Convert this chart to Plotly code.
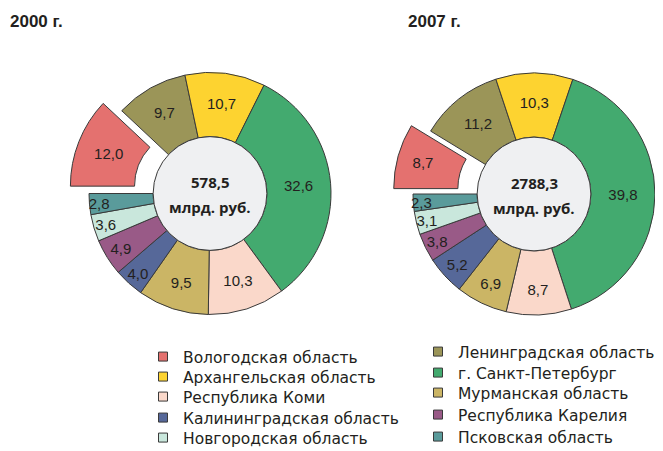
import math
import plotly.graph_objects as go

# ---------------- data ----------------
regions = [
    "Вологодская область",
    "Ленинградская область",
    "Архангельская область",
    "г. Санкт-Петербург",
    "Республика Коми",
    "Мурманская область",
    "Калининградская область",
    "Республика Карелия",
    "Новгородская область",
    "Псковская область",
]
share_2000 = [12.0, 9.7, 10.7, 32.6, 10.3, 9.5, 4.0, 4.9, 3.6, 2.8]
share_2007 = [8.7, 11.2, 10.3, 39.8, 8.7, 6.9, 5.2, 3.8, 3.1, 2.3]
years = ["2000 г.", "2007 г."]
totals = ["578,5", "2788,3"]
unit = "млрд. руб."

colors = ["#e4716f", "#9b9558", "#fdd330", "#43aa6f", "#fad8ca",
          "#cbb565", "#566899", "#995a87", "#c9e7dc", "#5a9b9b"]

# ---------------- layout constants ----------------
OFF = 8                      # page body margin
W, H = 663 - OFF, 451 - OFF  # figure size
R = 121
HOLE = 0.47
PULL_PX = 20
centers = [(210, 193.5), (534, 194)]  # in window pixels
LINE = "#3a3a3a"
TXT = "#231f20"
FONT = "Liberation Sans, Arial, sans-serif"
LEG_FONT = "DejaVu Sans, Liberation Sans, sans-serif"


def px(x):
    return min(1.0, max(0.0, (x - OFF) / W))


def py(y):
    return min(1.0, max(0.0, 1 - (y - OFF) / H))


def dom(cx, cy):
    return dict(x=[px(cx - R), px(cx + R)], y=[py(cy + R), py(cy - R)])


def fmt(v):
    return f"{v:.1f}".replace(".", ",")


fig = go.Figure()
transparent = "rgba(0,0,0,0)"

for k, vals in enumerate([share_2000, share_2007]):
    cx, cy = centers[k]
    n = len(vals)
    labels_txt = [fmt(v) for v in vals]
    # main ring (first slice hidden; drawn pulled-out separately)
    fig.add_trace(go.Pie(
        labels=regions, values=vals, sort=False, direction="clockwise",
        rotation=270, hole=HOLE, domain=dom(cx, cy),
        marker=dict(colors=[transparent] + colors[1:],
                    line=dict(color=LINE, width=[0] + [1] * (n - 1))),
        text=[""] + labels_txt[1:], textinfo="text",
        textposition="inside", insidetextorientation="horizontal",
        textfont=dict(family=FONT, size=15, color=TXT),
        showlegend=False, hoverinfo="skip",
    ))
    # pulled-out first slice
    frac = vals[0] / sum(vals)
    th = math.radians(270 + frac * 180)
    dx, dy = PULL_PX * math.sin(th), -PULL_PX * math.cos(th)
    fig.add_trace(go.Pie(
        labels=regions, values=vals, sort=False, direction="clockwise",
        rotation=270, hole=HOLE, domain=dom(cx + dx, cy + dy),
        marker=dict(colors=[colors[0]] + [transparent] * (n - 1),
                    line=dict(color=LINE, width=[1] + [0] * (n - 1))),
        text=[labels_txt[0]] + [""] * (n - 1), textinfo="text",
        textposition="inside", insidetextorientation="horizontal",
        textfont=dict(family=FONT, size=15, color=TXT),
        showlegend=False, hoverinfo="skip",
    ))
    # centre disc
    r0 = R * HOLE
    fig.add_shape(type="circle", xref="paper", yref="paper",
                  x0=px(cx - r0), x1=px(cx + r0),
                  y0=py(cy + r0), y1=py(cy - r0),
                  fillcolor="#eff0f2", line=dict(color=LINE, width=1),
                  layer="above")
    for txt, yy in [(totals[k], cy - 11.5), (unit, cy + 13.5)]:
        fig.add_annotation(text=f"<b>{txt}</b>", xref="paper", yref="paper",
                           x=px(cx), y=py(yy), xanchor="center", yanchor="middle",
                           showarrow=False,
                           font=dict(family="Open Sans", size=15, color=TXT))

# year titles
for k, (xp, yp) in enumerate([(7, 22), (406, 21)]):
    fig.add_annotation(text=f"<b>{years[k]}</b>", xref="paper", yref="paper",
                       x=px(xp), y=py(yp), xanchor="left", yanchor="middle",
                       showarrow=False,
                       font=dict(family="Liberation Sans Narrow, Liberation Sans, Arial",
                                 size=17, color=TXT))

# legend: each entry in its own legend box (two columns, row-major order)
row_y = {0: [357, 377, 397, 418, 438], 1: [352, 373, 393, 415, 437]}
col_x = {0: 143, 1: 418}
leg_layout = {}
for i, (name, col) in enumerate(zip(regions, colors)):
    lname = "legend" if i == 0 else f"legend{i + 1}"
    c, r = i % 2, i // 2
    fig.add_trace(go.Scatter(
        x=[None], y=[None], mode="markers", name=name, legend=lname,
        marker=dict(symbol="square", size=9, color=col,
                    line=dict(color=LINE, width=1)),
    ))
    leg_layout[lname] = dict(
        x=px(col_x[c]), y=py(row_y[c][r] - 17),
        orientation="v", xanchor="left", yanchor="top",
        font=dict(family=LEG_FONT, size=15.5, color=TXT),
        bgcolor="rgba(0,0,0,0)", itemclick=False, itemdoubleclick=False)

fig.update_layout(
    width=W, height=H,
    margin=dict(l=0, r=0, t=0, b=0, autoexpand=False),
    paper_bgcolor="white", plot_bgcolor="white",
    xaxis=dict(visible=False), yaxis=dict(visible=False),
    uniformtext=dict(minsize=15, mode="show"),
    **leg_layout,
)

fig.write_html("out.html")
